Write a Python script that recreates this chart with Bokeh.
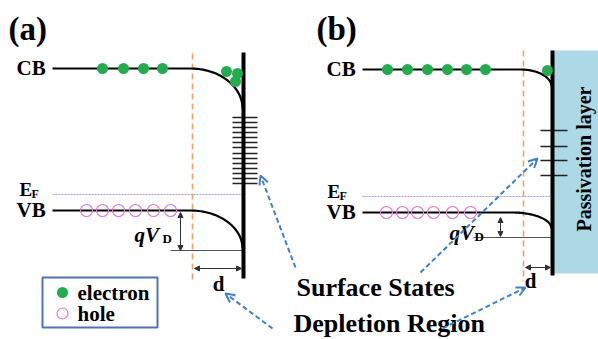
import numpy as np
from bokeh.plotting import figure
from bokeh.models import Range1d, Arrow, NormalHead, OpenHead
from bokeh.core.properties import value
from bokeh.embed import file_html
from bokeh.resources import INLINE

FONT = "Liberation Serif"

# ---- diagram data (reference pixel space) ----
panel_labels = ["(a)", "(b)"]
panel_label_x = [8, 316]
panel_label_y = [28, 28]

band_left_x = [52, 362]
cb_y = [68, 69]
cb_bend_x = [190, 520]
cb_wall_y = [108, 86]
vb_y = [210, 212]
vb_bend_x = [190, 512]
vb_wall_y = [248, 228]
ef_y = [194, 196]
wall_x = [243, 552]
wall_top = [52, 50]
wall_bottom = [278, 275]
depl_x = [192, 523]
depl_top = [53, 50]
depl_bottom = [281, 281]

electron_x_a = [102, 123, 143, 162]
electron_x_b = [387, 407, 427, 447, 466, 485]
surf_electron_x = [226, 237, 235, 547]
surf_electron_y = [71, 73, 81, 70]
hole_x_a = [86, 102, 118, 135, 153, 170]
hole_x_b = [386, 402, 417, 433, 452, 470]

states_y_a = [117, 122, 127, 132, 137, 142, 147, 153, 158, 163, 168, 173, 178, 183]
states_y_b = [130, 146, 160, 175]
states_x0 = [232, 540]
states_x1 = [257, 567]

qvd_x = [180, 500]
qvd_top = [212, 217]
qvd_bottom = [250, 236]
base_line_x0 = [170, 473]
base_line_y = [250, 237]
qvd_label_x = [134, 449]
qvd_label_y = [234, 232]

d_arrow_y = [268, 267]
d_label_x = [218, 530]
d_label_y = [283, 280]

pass_x0, pass_x1 = 553, 598
pass_y0, pass_y1 = 50, 273

# arrows: (tail_x, tail_y, head_x, head_y)
surf_arrow_a = (295, 267, 260, 175)
surf_arrow_b = (420, 272, 537, 158)
depl_arrow_a = (272, 328, 225, 293)
depl_arrow_b = (442, 328, 525, 287)

GREEN = "#1fae4b"
PINK = "#e27acd"
ORANGE = "#f2a25c"
EF_COL = "#9f9cf0"
BLUE = "#3a82d2"

p = figure(width=598, height=339, output_backend="svg", toolbar_location=None,
           x_range=Range1d(0, 598), y_range=Range1d(339, 0), min_border=0)
p.axis.visible = False
p.grid.visible = False
p.outline_line_color = None
p.background_fill_color = "white"

# passivation layer
p.quad(left=[pass_x0], right=[pass_x1], top=[pass_y0], bottom=[pass_y1],
       fill_color="#add8e6", line_color=None)
p.text(x=[583], y=[(pass_y0 + pass_y1) / 2 - 3], text=["Passivation layer"], angle=np.pi / 2,
       text_font=value(FONT), text_font_style="bold", text_font_size="20px",
       text_align="center", text_baseline="middle", text_color="black")


def bend(x0, y0, xw, yw, n=40):
    t = np.linspace(0, np.pi / 2, n)
    return x0 + (xw - x0) * np.sin(t), y0 + (yw - y0) * (1 - np.cos(t))


for i in range(2):
    # depletion boundary
    p.line([depl_x[i], depl_x[i]], [depl_top[i], depl_bottom[i]], line_color=ORANGE,
           line_width=1.6, line_dash="6 4")
    # Fermi level
    p.line([band_left_x[i], wall_x[i] - 1], [ef_y[i], ef_y[i]], line_color=EF_COL, line_width=1,
           line_dash="2 1")
    # CB
    bx, by = bend(cb_bend_x[i], cb_y[i], wall_x[i] - 1, cb_wall_y[i])
    p.line(np.r_[band_left_x[i], bx], np.r_[cb_y[i], by], line_color="black", line_width=2.2)
    # VB
    bx, by = bend(vb_bend_x[i], vb_y[i], wall_x[i] - 1, vb_wall_y[i])
    p.line(np.r_[band_left_x[i], bx], np.r_[vb_y[i], by], line_color="black", line_width=2.2)
    # base line for qVD
    p.line([base_line_x0[i], wall_x[i]], [base_line_y[i], base_line_y[i]], line_color="#555555",
           line_width=1)
    # surface states
    sy = states_y_a if i == 0 else states_y_b
    p.segment(x0=[states_x0[i]] * len(sy), x1=[states_x1[i]] * len(sy), y0=sy, y1=sy,
              line_color="#222222", line_width=1.3)
    # wall
    p.line([wall_x[i], wall_x[i]], [wall_top[i], wall_bottom[i]], line_color="black", line_width=4)
    # qVD double arrow
    p.add_layout(Arrow(x_start=qvd_x[i], y_start=qvd_top[i], x_end=qvd_x[i], y_end=qvd_bottom[i],
                       line_color="#333333", line_width=1,
                       start=NormalHead(size=5, fill_color="#333333", line_color="#333333"),
                       end=NormalHead(size=5, fill_color="#333333", line_color="#333333")))
    # d double arrow
    p.add_layout(Arrow(x_start=depl_x[i] + 2, y_start=d_arrow_y[i], x_end=wall_x[i] - 2, y_end=d_arrow_y[i],
                       line_color="#333333", line_width=1,
                       start=NormalHead(size=5, fill_color="#333333", line_color="#333333"),
                       end=NormalHead(size=5, fill_color="#333333", line_color="#333333")))

# electrons and holes
p.scatter(electron_x_a, [cb_y[0]] * len(electron_x_a), size=11, fill_color=GREEN, line_color=None)
p.scatter(electron_x_b, [cb_y[1]] * len(electron_x_b), size=11, fill_color=GREEN, line_color=None)
p.scatter(surf_electron_x, surf_electron_y, size=11, fill_color=GREEN, line_color=None)
p.scatter(hole_x_a, [vb_y[0]] * len(hole_x_a), size=12, fill_color="white", fill_alpha=0,
          line_color=PINK, line_width=1.2)
p.scatter(hole_x_b, [vb_y[1]] * len(hole_x_b), size=12, fill_color="white", fill_alpha=0,
          line_color=PINK, line_width=1.2)

# blue dashed arrows
for (tx, ty, hx, hy) in [surf_arrow_a, surf_arrow_b, depl_arrow_a, depl_arrow_b]:
    p.add_layout(Arrow(x_start=tx, y_start=ty, x_end=hx, y_end=hy, line_color=BLUE, line_width=2,
                       line_dash="5 3",
                       end=OpenHead(size=9, line_color=BLUE, line_width=2)))

# legend box
p.quad(left=[42], right=[157], top=[277], bottom=[327], fill_color="white",
       line_color="#4f72b8", line_width=2)
p.scatter([62], [292], size=11, fill_color=GREEN, line_color=None)
p.scatter([62], [313], size=11, fill_color="white", line_color=PINK, line_width=1.2)

txt = dict(text_font=value(FONT), text_font_style="bold", text_color="black",
           text_baseline="middle")
p.text(x=[77, 77], y=[292, 313], text=["electron", "hole"], text_font_size="21px",
       text_align="left", **txt)

# panel labels
p.text(x=panel_label_x, y=panel_label_y, text=panel_labels, text_font_size="33px",
       text_align="left", **txt)

# band labels
p.text(x=[16, 326], y=[cb_y[0] - 1, cb_y[1] - 1], text=["CB", "CB"], text_font_size="21px",
       text_align="left", **txt)
p.text(x=[16, 326], y=[vb_y[0] - 1, vb_y[1] - 1], text=["VB", "VB"], text_font_size="21px",
       text_align="left", **txt)
p.text(x=[19, 327], y=[ef_y[0] - 5, ef_y[1] - 5], text=["E", "E"], text_font_size="19px",
       text_align="left", **txt)
p.text(x=[31, 339], y=[ef_y[0] - 1, ef_y[1] - 1], text=["F", "F"], text_font_size="12px",
       text_align="left", **txt)

# qVD labels
p.text(x=qvd_label_x, y=qvd_label_y, text=["qV", "qV"], text_font=value(FONT),
       text_font_style="bold italic", text_font_size="21px", text_align="left",
       text_baseline="middle", text_color="black")
p.text(x=[qvd_label_x[0] + 28, qvd_label_x[1] + 25], y=[qvd_label_y[0] + 4, qvd_label_y[1] + 4],
       text=["D", "D"], text_font_size="13px", text_align="left", **txt)

# d labels
p.text(x=d_label_x, y=d_label_y, text=["d", "d"], text_font_size="21px", text_align="center", **txt)

# annotations
p.text(x=[296], y=[287], text=["Surface States"], text_font_size="26px", text_align="left", **txt)
p.text(x=[293], y=[323], text=["Depletion Region"], text_font_size="26px", text_align="left", **txt)

open("out.html", "w").write(file_html(p, INLINE))
